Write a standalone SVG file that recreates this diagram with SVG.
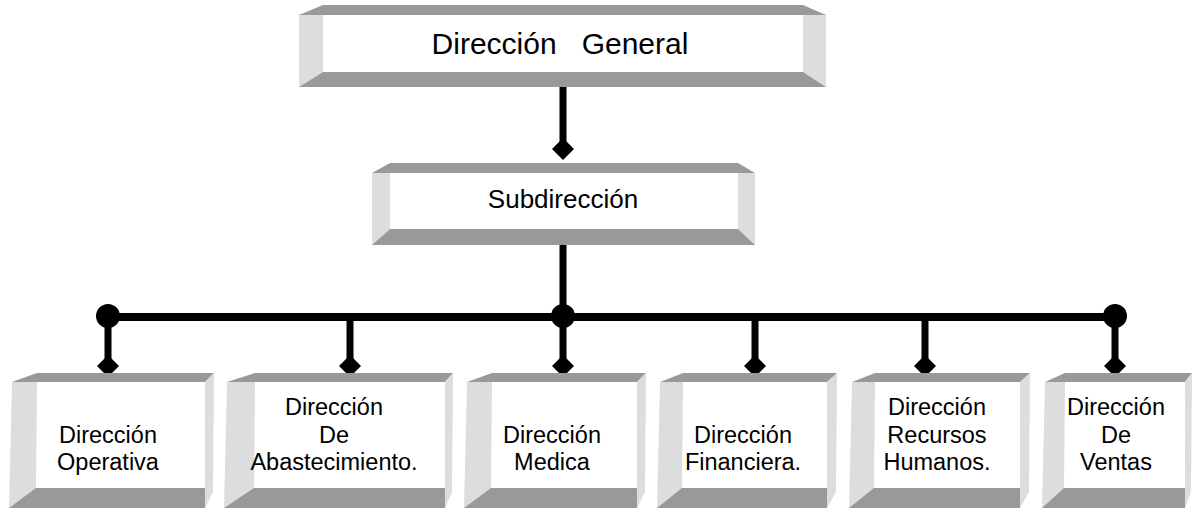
<svg xmlns="http://www.w3.org/2000/svg" width="1193" height="510" viewBox="0 0 1193 510">
<style>
.dk{fill:#999999}
.lt{fill:#dddddd}
.wf{fill:#ffffff}
.ln{stroke:#000;stroke-width:7;fill:none}
.bar{stroke:#000;stroke-width:8;fill:none}
.dot{fill:#000}
text{font-family:"Liberation Sans",Arial,sans-serif;fill:#000;text-anchor:middle}
.t1{font-size:30px}
.t2{font-size:26px}
.t3{font-size:23.5px}
</style>
<rect width="1193" height="510" fill="#fff"/>
<g id="connectors">
<line class="ln" x1="563" y1="87" x2="563" y2="150"/>
<polygon class="dot" points="563,138 574,149 563,160 552,149"/>
<line class="ln" x1="563" y1="245" x2="563" y2="317"/>
<line class="bar" x1="107" y1="317" x2="1115" y2="317"/>
<circle class="dot" cx="108" cy="316" r="12"/>
<circle class="dot" cx="563" cy="316" r="12"/>
<circle class="dot" cx="1115" cy="316" r="12"/>
<line class="ln" x1="108" y1="317" x2="108" y2="366"/>
<polygon class="dot" points="108,355 119,366 108,377 97,366"/>
<line class="ln" x1="350" y1="317" x2="350" y2="366"/>
<polygon class="dot" points="350,355 361,366 350,377 339,366"/>
<line class="ln" x1="563" y1="317" x2="563" y2="366"/>
<polygon class="dot" points="563,355 574,366 563,377 552,366"/>
<line class="ln" x1="755" y1="317" x2="755" y2="366"/>
<polygon class="dot" points="755,355 766,366 755,377 744,366"/>
<line class="ln" x1="925" y1="317" x2="925" y2="366"/>
<polygon class="dot" points="925,355 936,366 925,377 914,366"/>
<line class="ln" x1="1115" y1="317" x2="1115" y2="366"/>
<polygon class="dot" points="1115,355 1126,366 1115,377 1104,366"/>
</g>
<g id="direccion-general">
<rect class="wf" x="323" y="14" width="480" height="58"/>
<polygon class="lt" points="299,14 323,14 323,72 299,87"/>
<polygon class="lt" points="803,14 826,14 826,87 803,72"/>
<polygon class="dk" points="299,15 323,5 803,5 826,15"/>
<polygon class="dk" points="323,72 803,72 826,87 299,87"/>
<text class="t1" x="560" y="54" xml:space="preserve">Dirección   General</text>
</g>
<g id="subdireccion">
<rect class="wf" x="390" y="173" width="348" height="56"/>
<polygon class="lt" points="372,173 390,173 390,229 372,245"/>
<polygon class="lt" points="738,173 755,173 755,245 738,229"/>
<polygon class="dk" points="372,173 390,163 738,163 755,173"/>
<polygon class="dk" points="390,229 738,229 755,245 372,245"/>
<text class="t2" x="563" y="208">Subdirección</text>
</g>
<g id="dir-operativa">
<rect class="wf" x="37" y="382" width="168" height="106"/>
<polygon class="dk" points="12,382 37,373 214,373 205,382"/>
<polygon class="lt" points="12,382 37,382 36,490 9,508"/>
<polygon class="dk" points="36,488 205,488 205,508 9,508"/>
<polygon class="lt" points="205,382 214,373 213,492 205,508"/>
<text class="t3" x="108"><tspan x="108" y="443">Dirección</tspan><tspan x="108" y="470">Operativa</tspan></text>
</g>
<g id="dir-abastecimiento">
<rect class="wf" x="255" y="382" width="190" height="106"/>
<polygon class="dk" points="227,382 255,373 453,373 445,382"/>
<polygon class="lt" points="227,382 255,382 254,490 224,508"/>
<polygon class="dk" points="254,488 445,488 445,508 224,508"/>
<polygon class="lt" points="445,382 453,373 452,492 445,508"/>
<text class="t3" x="334"><tspan x="334" y="415">Dirección</tspan><tspan x="334" y="443">De</tspan><tspan x="334" y="470">Abastecimiento.</tspan></text>
</g>
<g id="dir-medica">
<rect class="wf" x="492" y="382" width="145" height="106"/>
<polygon class="dk" points="467,382 492,373 646,373 637,382"/>
<polygon class="lt" points="467,382 492,382 491,490 464,508"/>
<polygon class="dk" points="491,488 637,488 637,508 464,508"/>
<polygon class="lt" points="637,382 646,373 645,492 637,508"/>
<text class="t3" x="552"><tspan x="552" y="443">Dirección</tspan><tspan x="552" y="470">Medica</tspan></text>
</g>
<g id="dir-financiera">
<rect class="wf" x="683" y="382" width="144" height="106"/>
<polygon class="dk" points="660,382 683,373 837,373 827,382"/>
<polygon class="lt" points="660,382 683,382 682,490 657,508"/>
<polygon class="dk" points="682,488 827,488 827,508 657,508"/>
<polygon class="lt" points="827,382 837,373 836,492 827,508"/>
<text class="t3" x="743"><tspan x="743" y="443">Dirección</tspan><tspan x="743" y="470">Financiera.</tspan></text>
</g>
<g id="dir-recursos-humanos">
<rect class="wf" x="875" y="382" width="145" height="106"/>
<polygon class="dk" points="852,382 875,373 1030,373 1020,382"/>
<polygon class="lt" points="852,382 875,382 874,490 849,508"/>
<polygon class="dk" points="874,488 1020,488 1020,508 849,508"/>
<polygon class="lt" points="1020,382 1030,373 1029,492 1020,508"/>
<text class="t3" x="937"><tspan x="937" y="415">Dirección</tspan><tspan x="937" y="443">Recursos</tspan><tspan x="937" y="470">Humanos.</tspan></text>
</g>
<g id="dir-ventas">
<rect class="wf" x="1065" y="382" width="120" height="106"/>
<polygon class="dk" points="1045,382 1065,373 1192,373 1185,382"/>
<polygon class="lt" points="1045,382 1065,382 1064,490 1042,508"/>
<polygon class="dk" points="1064,488 1185,488 1185,508 1042,508"/>
<polygon class="lt" points="1185,382 1192,373 1191,492 1185,508"/>
<text class="t3" x="1116"><tspan x="1116" y="415">Dirección</tspan><tspan x="1116" y="443">De</tspan><tspan x="1116" y="470">Ventas</tspan></text>
</g>
</svg>
